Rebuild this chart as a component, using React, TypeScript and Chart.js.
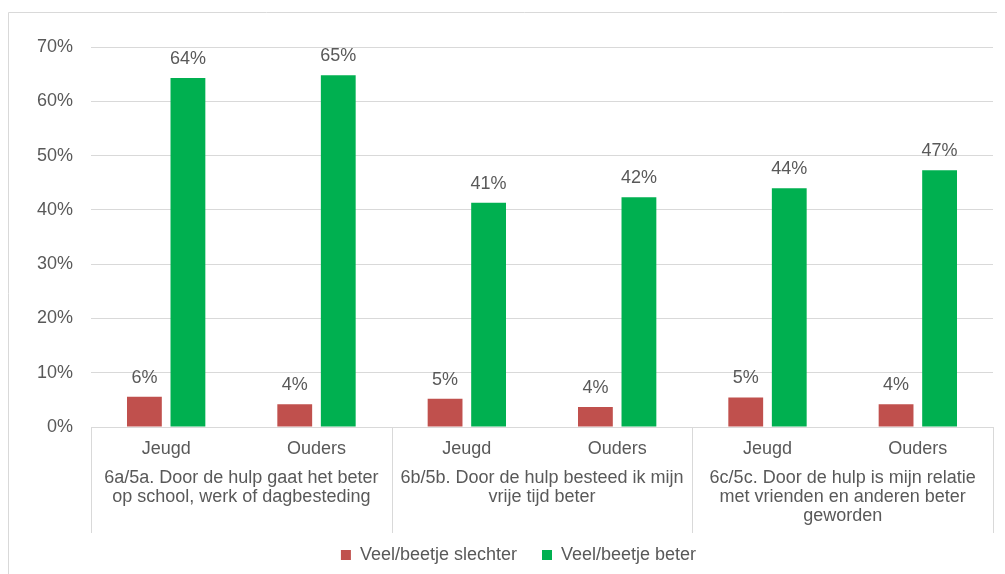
import React, { useEffect, useRef } from "react";
import { Chart, registerables } from "chart.js";

Chart.register(...registerables);

const categories = ["Jeugd", "Ouders", "Jeugd", "Ouders", "Jeugd", "Ouders"];
const groupLabels = [
  ["6a/5a. Door de hulp gaat het beter", "op school, werk of dagbesteding"],
  ["6b/5b. Door de hulp besteed ik mijn", "vrije tijd beter"],
  ["6c/5c. Door de hulp is mijn relatie", "met vrienden en anderen beter", "geworden"],
];
const groupSize = 2;
const seriesNames = ["Veel/beetje slechter", "Veel/beetje beter"];
const worseValues = [5.55, 4.2, 5.2, 3.7, 5.45, 4.2];
const betterValues = [64.3, 64.8, 41.3, 42.3, 44.0, 47.3];
const yTicksMax = 70;
const yTickStep = 10;

const FONT = "'Liberation Sans', Arial, sans-serif";
const TEXT = "#595959";
const GRID = "#d9d9d9";
const FS = 18;
const EXTRA_RIGHT = 36;

const overlay = {
  id: "overlay",
  afterDraw(chart: any) {
    const ctx = chart.ctx;
    const area = chart.chartArea;
    const x = chart.scales.x;
    ctx.save();
    // outer frame
    ctx.strokeStyle = GRID;
    ctx.lineWidth = 1;
    ctx.beginPath();
    ctx.moveTo(0.5, chart.height);
    ctx.lineTo(0.5, 4.5);
    ctx.lineTo(chart.width, 4.5);
    ctx.stroke();

    // group separators
    const sepBottom = 525;
    const n = categories.length;
    const step = (area.right - area.left) / n;
    ctx.beginPath();
    for (let i = 0; i <= n; i += groupSize) {
      const px = Math.round(area.left + step * i) + 0.5;
      ctx.moveTo(px, area.bottom);
      ctx.lineTo(px, sepBottom);
    }
    ctx.stroke();

    // group labels
    ctx.fillStyle = TEXT;
    ctx.font = `${FS}px ${FONT}`;
    ctx.textAlign = "center";
    ctx.textBaseline = "middle";
    groupLabels.forEach((lines, g) => {
      const cx = (x.getPixelForValue(g * groupSize) + x.getPixelForValue(g * groupSize + groupSize - 1)) / 2;
      lines.forEach((ln, j) => {
        ctx.fillText(ln, cx, 470.5 + j * 19);
      });
    });

    // data labels
    chart.data.datasets.forEach((ds: any, di: number) => {
      const meta = chart.getDatasetMeta(di);
      meta.data.forEach((bar: any, i: number) => {
        const v = ds.data[i];
        ctx.fillText(Math.round(v) + "%", bar.x, bar.y - 19);
      });
    });
    ctx.restore();
  },
};

export default function App() {
  const ref = useRef<HTMLCanvasElement>(null);
  useEffect(() => {
    if (!ref.current) return;
    const chart = new Chart(ref.current, {
      type: "bar",
      data: {
        labels: categories,
        datasets: [
          { label: seriesNames[0], data: worseValues, backgroundColor: "#c0504d" },
          { label: seriesNames[1], data: betterValues, backgroundColor: "#00b050" },
        ],
      },
      options: {
        animation: false,
        responsive: false,
        devicePixelRatio: 1,
        layout: { padding: { left: 0, right: 12, top: 39, bottom: 0 } },
        datasets: { bar: { categoryPercentage: 0.579, barPercentage: 0.8 } },
        scales: {
          x: {
            grid: { display: false, drawTicks: false },
            border: { display: true, color: GRID, width: 1 },
            ticks: { color: TEXT, font: { family: FONT, size: FS }, padding: 11, maxRotation: 0 },
            afterFit: (s: any) => { s.height = 94; },
          },
          y: {
            min: 0,
            max: yTicksMax,
            grid: { color: GRID, drawTicks: false },
            border: { display: false },
            ticks: {
              stepSize: yTickStep,
              color: TEXT,
              font: { family: FONT, size: FS },
              padding: 18,
              callback: (v: any) => v + "%",
            },
            afterFit: (s: any) => { s.width = 83; },
          },
          yPad: {
            position: "right",
            min: 0,
            max: yTicksMax,
            grid: { display: false, drawTicks: false },
            border: { display: false },
            ticks: { display: false },
            afterFit: (s: any) => { s.width = EXTRA_RIGHT; },
          },
        },
        plugins: {
          legend: {
            position: "bottom",
            labels: {
              color: TEXT,
              font: { family: FONT, size: FS },
              boxWidth: 10,
              boxHeight: 10,
              padding: 25,
            },
          },
          tooltip: { enabled: false },
        },
      },
      plugins: [overlay],
    });
    return () => chart.destroy();
  }, []);
  return (
    <div style={{ width: 997, height: 566, overflow: "hidden" }}>
      <canvas ref={ref} width={997 + EXTRA_RIGHT} height={566} style={{ display: "block" }} />
    </div>
  );
}
